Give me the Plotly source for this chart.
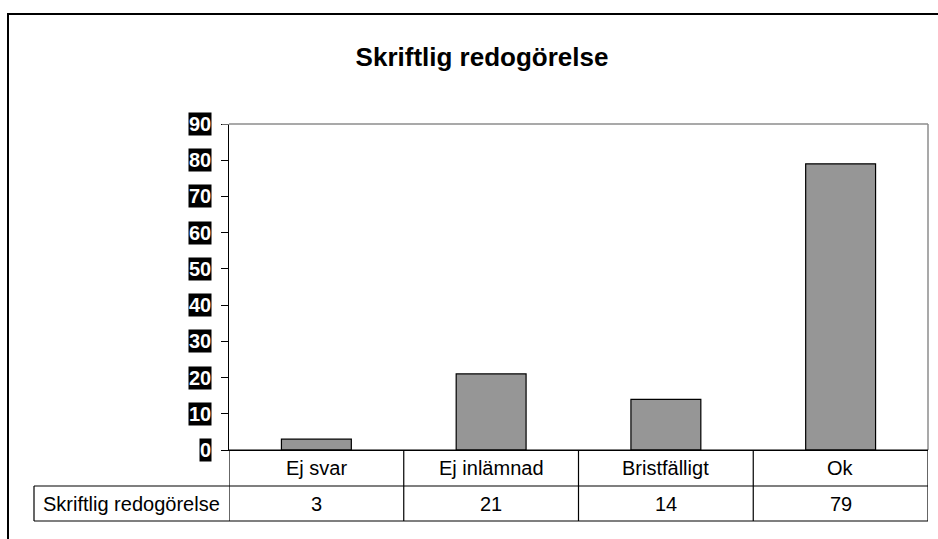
import plotly.graph_objects as go

# ---- data ----
categories = ["Ej svar", "Ej inlämnad", "Bristfälligt", "Ok"]
values = [3, 21, 14, 79]
series_name = "Skriftlig redogörelse"
title_text = "Skriftlig redogörelse"
y_ticks = [0, 10, 20, 30, 40, 50, 60, 70, 80, 90]

W, H = 938, 539
L, R, T, B = 229, 10, 124, 89
pw = W - L - R
ph = H - T - B
FONT = "Arial, Liberation Sans, sans-serif"


def px_x(px):
    return (px - L) / pw


def px_y(py):
    return (H - B - py) / ph


fig = go.Figure()
fig.add_trace(go.Bar(
    x=categories, y=values, name=series_name, width=0.4,
    marker=dict(color="#969696", line=dict(color="black", width=1.2)),
    hoverinfo="x+y",
))

shapes = []
annotations = []

# plot-area border (gray top and right)
shapes.append(dict(type="line", xref="paper", yref="paper", x0=0, x1=1, y0=1, y1=1,
                   line=dict(color="#8c8c8c", width=1.5)))
shapes.append(dict(type="line", xref="paper", yref="paper", x0=1, x1=1, y0=0, y1=1,
                   line=dict(color="#8c8c8c", width=1.5)))
# gray stub of the top tick
shapes.append(dict(type="line", xref="paper", yref="y", x0=px_x(222), x1=0, y0=y_ticks[-1], y1=y_ticks[-1],
                   line=dict(color="#8c8c8c", width=1.5)))

# outer chart frame
shapes.append(dict(type="rect", xref="paper", yref="paper",
                   x0=px_x(8), x1=px_x(960), y0=px_y(560), y1=px_y(14),
                   line=dict(color="black", width=2), fillcolor="rgba(0,0,0,0)"))

# data table lines
row1_top, row1_bot, row2_bot = px_y(450), px_y(486), px_y(521)
left_cell = px_x(34)
n = len(categories)
for yv in (row1_bot, row2_bot):
    shapes.append(dict(type="line", xref="paper", yref="paper", x0=left_cell, x1=1, y0=yv, y1=yv,
                       line=dict(color="black", width=1.2)))
shapes.append(dict(type="line", xref="paper", yref="paper", x0=0, x1=1, y0=row1_top, y1=row1_top,
                   line=dict(color="black", width=1.2)))
for i in range(n + 1):
    shapes.append(dict(type="line", xref="x", yref="paper", x0=i - 0.5, x1=i - 0.5,
                       y0=row2_bot, y1=row1_top, line=dict(color="black", width=1.2)))
shapes.append(dict(type="line", xref="paper", yref="paper", x0=left_cell, x1=left_cell,
                   y0=row2_bot, y1=row1_bot, line=dict(color="black", width=1.2)))

row1_mid = (row1_top + row1_bot) / 2
row2_mid = (row1_bot + row2_bot) / 2
for c, v in zip(categories, values):
    annotations.append(dict(x=c, xref="x", y=row1_mid, yref="paper", text=c, showarrow=False,
                            xanchor="center", yanchor="middle",
                            font=dict(family=FONT, size=20, color="black")))
    annotations.append(dict(x=c, xref="x", y=row2_mid, yref="paper", text=str(v), showarrow=False,
                            xanchor="center", yanchor="middle",
                            font=dict(family=FONT, size=20, color="black")))
annotations.append(dict(x=(left_cell + 0) / 2, xref="paper", y=row2_mid, yref="paper",
                        text=series_name, showarrow=False, xanchor="center", yanchor="middle",
                        font=dict(family=FONT, size=20, color="black")))

# y tick labels: white bold text on black boxes
for t in y_ticks:
    annotations.append(dict(x=0, xref="paper", y=t, yref="y", text="<b>%d</b>" % t, showarrow=False,
                            xanchor="right", yanchor="middle", xshift=-17,
                            bgcolor="black", borderpad=0,
                            font=dict(family=FONT, size=20, color="white")))

fig.update_layout(
    width=W, height=H,
    margin=dict(l=L, r=R, t=T, b=B),
    paper_bgcolor="white", plot_bgcolor="white",
    showlegend=False,
    bargap=0.6,
    title=dict(text="<b>%s</b>" % title_text, x=482 / W, xref="container", xanchor="center",
               y=1 - 57 / H, yref="container", yanchor="middle",
               font=dict(family=FONT, size=26, color="black")),
    xaxis=dict(range=[-0.5, n - 0.5], showticklabels=False, ticks="", showgrid=False,
               showline=True, linecolor="black", linewidth=1.2, zeroline=False, fixedrange=True),
    yaxis=dict(range=[0, y_ticks[-1]], tickvals=y_ticks, showticklabels=False, ticks="outside",
               ticklen=7, tickcolor="black", tickwidth=1.2, showgrid=False, showline=True,
               linecolor="black", linewidth=1.2, zeroline=False, fixedrange=True),
    shapes=shapes,
    annotations=annotations,
)

fig.write_html("out.html", config={"displayModeBar": False},
               post_script="document.body.style.margin='0';document.body.style.overflow='hidden';")
